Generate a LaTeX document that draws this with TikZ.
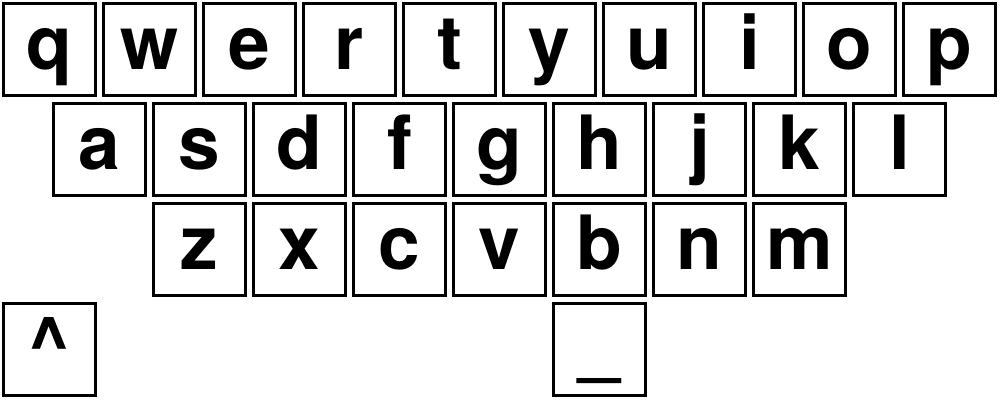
\documentclass[tikz,border=0pt]{standalone}
\usepackage{fontspec}
\setmainfont{TeX Gyre Heros}
\begin{document}
\begin{tikzpicture}[key/.style={draw,line width=0.03cm,minimum size=0.92cm,inner sep=0pt,
                      text height=0.4cm,text depth=0cm,font=\bfseries\fontsize{21.3}{25}\selectfont}]
                    \useasboundingbox (0,0) rectangle (10,-4);

                    \node[key] (q) at (0.495,-0.495) {q};
                    \node[key] (w) at (1.495,-0.495) {w};
                    \node[key] (e) at (2.495,-0.495) {e};
                    \node[key] (r) at (3.495,-0.495) {r};
                    \node[key] (t) at (4.495,-0.495) {t};
                    \node[key] (y) at (5.495,-0.495) {y};
                    \node[key] (u) at (6.495,-0.495) {u};
                    \node[key] (i) at (7.495,-0.495) {i};
                    \node[key] (o) at (8.495,-0.495) {o};
                    \node[key] (p) at (9.495,-0.495) {p};

                    \node[key] (a) at (0.995,-1.495) {a};
                    \node[key] (s) at (1.995,-1.495) {s};
                    \node[key] (d) at (2.995,-1.495) {d};
                    \node[key] (f) at (3.995,-1.495) {f};
                    \node[key] (g) at (4.995,-1.495) {g};
                    \node[key] (h) at (5.995,-1.495) {h};
                    \node[key] (j) at (6.995,-1.495) {j};
                    \node[key] (k) at (7.995,-1.495) {k};
                    \node[key] (l) at (8.995,-1.495) {l};

                    \node[key] (z) at (1.995,-2.495) {z};
                    \node[key] (x) at (2.995,-2.495) {x};
                    \node[key] (c) at (3.995,-2.495) {c};
                    \node[key] (v) at (4.995,-2.495) {v};
                    \node[key] (b) at (5.995,-2.495) {b};
                    \node[key] (n) at (6.995,-2.495) {n};
                    \node[key] (m) at (7.995,-2.495) {m};

                    \node[key] (shift) at (0.495,-3.495) {\textasciicircum};
                    \node[key] (space) at (5.995,-3.495) {\_};
                \end{tikzpicture}
\end{document}
